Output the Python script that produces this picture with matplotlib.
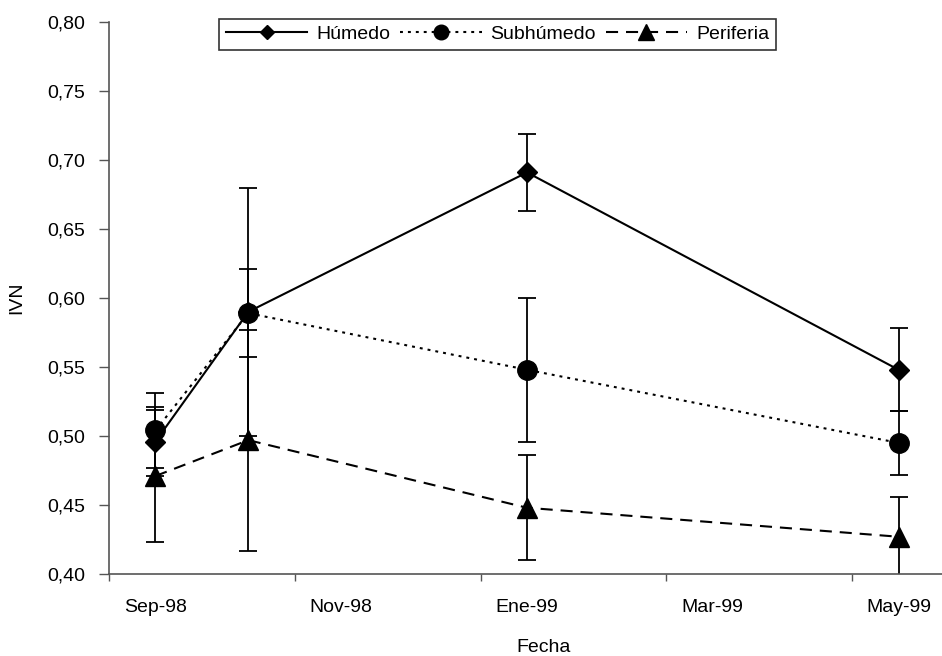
import numpy as np
import pandas as pd
import matplotlib
matplotlib.use("Agg")
import matplotlib.pyplot as plt
from matplotlib.ticker import FuncFormatter

plt.rcParams['font.family'] = ['Liberation Sans', 'DejaVu Sans']

# Datos (IVN por zona y fecha de muestreo)
fechas = ['1998-09', '1998-10', '1999-01', '1999-05']
humedo = [0.496, 0.590, 0.691, 0.548]
humedo_err = [0.025, 0.090, 0.028, 0.030]
subhumedo = [0.504, 0.589, 0.548, 0.495]
subhumedo_err = [0.027, 0.032, 0.052, 0.023]
periferia = [0.471, 0.497, 0.448, 0.427]
periferia_err = [0.048, 0.080, 0.038, 0.029]

tick_meses = ['1998-09', '1998-11', '1999-01', '1999-03', '1999-05']
tick_labels = ['Sep-98', 'Nov-98', 'Ene-99', 'Mar-99', 'May-99']

# meses desde Sep-98 (eje en unidades de mes, como Excel)
base = pd.Period('1998-09', freq='M')
x = np.array([(pd.Period(f, freq='M') - base).n for f in fechas])
xt = np.array([(pd.Period(f, freq='M') - base).n for f in tick_meses])

W, H = 942, 656
FS = 14
fig = plt.figure(figsize=(W / 100, H / 100), dpi=100)
ax = fig.add_axes([109 / W, (H - 574) / H, (945 - 109) / W, (574 - 22) / H])

series = [
    ('Húmedo', humedo, humedo_err, 'D', 10, '-'),
    ('Subhúmedo', subhumedo, subhumedo_err, 'o', 14, (0, (1.4, 2.4))),
    ('Periferia', periferia, periferia_err, '^', 15, (0, (5.8, 3.8))),
]

for label, y, err, mk, ms, ls in series:
    ax.errorbar(x, y, yerr=err, fmt='none', ecolor='black', elinewidth=1.3,
                capsize=6.5, capthick=1.3, zorder=2)
    ax.plot(x, y, color='black', linestyle=ls, linewidth=1.5, marker=mk,
            markersize=ms, markerfacecolor='black', markeredgecolor='black',
            label=label, zorder=3)

ax.set_xlim(-0.5, 8.5)
ax.set_ylim(0.40, 0.80)
ax.set_yticks(np.arange(0.40, 0.801, 0.05))
ax.yaxis.set_major_formatter(FuncFormatter(lambda v, p: f"{v:.2f}".replace('.', ',')))

# etiquetas centradas en el mes, marcas en el borde del intervalo
ax.set_xticks(xt)
ax.set_xticklabels(tick_labels)
ax.set_xticks(xt - 0.5, minor=True)
ax.tick_params(axis='x', which='major', length=0, pad=18, labelsize=FS)
ax.tick_params(axis='x', which='minor', length=5, width=1, color='#555555')
ax.tick_params(axis='y', length=7, width=1, color='#555555', pad=10, labelsize=FS)

for s in ['top', 'right']:
    ax.spines[s].set_visible(False)
for s in ['left', 'bottom']:
    ax.spines[s].set_color('#555555')
    ax.spines[s].set_linewidth(1.2)

ax.set_xlabel('Fecha', fontsize=FS)
ax.xaxis.set_label_coords(0.52, -0.117)
ax.set_ylabel('IVN', fontsize=FS)
ax.yaxis.set_label_coords(-0.1, 0.5)

leg = ax.legend(loc='upper left', bbox_to_anchor=((219 - 109) / 836, 1.006), ncol=3,
                fontsize=FS, frameon=True, fancybox=False, handlelength=4.2,
                handletextpad=0.45, columnspacing=0.5, borderpad=0.35,
                borderaxespad=0, markerscale=0.75)
leg.get_frame().set_edgecolor('black')
leg.get_frame().set_linewidth(1.2)

fig.savefig('out.png', dpi=100)
